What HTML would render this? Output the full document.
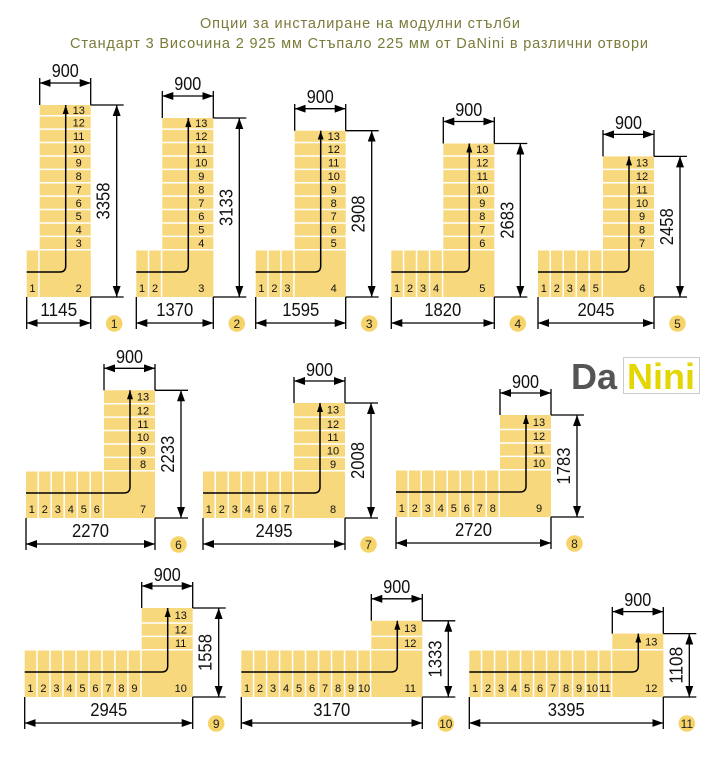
<!DOCTYPE html>
<html><head><meta charset="utf-8"><style>
html,body{margin:0;padding:0;background:#fff}
svg{display:block}
.s{font:11px "Liberation Sans Narrow","Liberation Sans",sans-serif;text-anchor:middle;fill:#111}
.d{font:18px "Liberation Sans Narrow","Liberation Sans",sans-serif;text-anchor:middle;fill:#111}
.b{font:12px "Liberation Sans Narrow","Liberation Sans",sans-serif;text-anchor:middle;fill:#222}
.dl{stroke:#000;stroke-width:1.3;fill:none}
.dm{stroke:#000;stroke-width:1.3;fill:none;marker-start:url(#ms);marker-end:url(#m)}
.ar{stroke:#000;stroke-width:1.5;fill:none}
.gh{stroke:#fff;stroke-width:1.5;fill:none}
</style></head><body>
<svg width="721" height="777" viewBox="0 0 721 777" xmlns="http://www.w3.org/2000/svg">
<defs>
<marker id="m" markerUnits="userSpaceOnUse" markerWidth="11" markerHeight="8" refX="11" refY="4" orient="auto"><path d="M0,0 L11,4 L0,8 z" fill="#000"/></marker>
<marker id="ms" markerUnits="userSpaceOnUse" markerWidth="11" markerHeight="8" refX="0" refY="4" orient="auto"><path d="M11,0 L0,4 L11,8 z" fill="#000"/></marker>
<marker id="u" markerUnits="userSpaceOnUse" markerWidth="9" markerHeight="6" refX="9" refY="3" orient="auto"><path d="M0,0 L9,3 L0,6 z" fill="#000"/></marker>
</defs>
<text x="360" y="28" textLength="320" style="font:14.5px 'Liberation Sans',sans-serif;fill:#7a7a3a;text-anchor:middle">Опции за инсталиране на модулни стълби</text>
<text x="359" y="48" textLength="578" style="font:14.5px 'Liberation Sans',sans-serif;fill:#7a7a3a;text-anchor:middle">Стандарт 3 Височина 2 925 мм Стъпало 225 мм от DaNini в различни отвори</text>

<text x="571" y="389" style="font:bold 36px 'Liberation Sans',sans-serif;fill:#555">Da</text>
<rect x="623.5" y="357.5" width="76" height="36" fill="none" stroke="#ccc" stroke-width="1"/>
<text x="627" y="389" style="font:bold 36px 'Liberation Sans',sans-serif;fill:#e4d600">Nini</text>

<!-- D1 -->
<g transform="translate(90.7,297)">
<rect x="-51" y="-192" width="51" height="192" fill="#f8d87c"/><rect x="-64" y="-46.5" width="64" height="46.5" fill="#f8d87c"/>
<path class="gh" d="M-51 -47.25h51M-51 -60.65h51M-51 -74.05h51M-51 -87.45h51M-51 -100.85h51M-51 -114.25h51M-51 -127.65h51M-51 -141.05h51M-51 -154.45h51M-51 -167.85h51M-51 -181.25h51M-51.75 -46.5v46.5"/>
<path class="ar" d="M-64 -25H-31Q-25 -25 -25 -31V-192" marker-end="url(#u)"/>
<g class="s"><text x="-58.25" y="-5">1</text><text x="-12" y="-5">2</text>
<text x="-12" y="-50">3</text><text x="-12" y="-63.4">4</text><text x="-12" y="-76.8">5</text><text x="-12" y="-90.2">6</text><text x="-12" y="-103.6">7</text><text x="-12" y="-117">8</text><text x="-12" y="-130.4">9</text><text x="-12" y="-143.8">10</text><text x="-12" y="-157.2">11</text><text x="-12" y="-170.6">12</text><text x="-12" y="-183">13</text></g>
<path class="dl" d="M-51 -192V-219M0 -192V-219M0 -192H33M0 0H33M-64 0V32M0 0V32"/>
<path class="dm" d="M-51 -214H0"/><path class="dm" d="M26 -192V0"/><path class="dm" d="M-64 26H0"/>
<text class="d" x="-25.5" y="-220" textLength="27" lengthAdjust="spacingAndGlyphs">900</text><text class="d" x="-32" y="19" textLength="37" lengthAdjust="spacingAndGlyphs">1145</text>
<text class="d" transform="translate(12,-96) rotate(-90)" dy="7" textLength="37" lengthAdjust="spacingAndGlyphs">3358</text>
<circle cx="23.5" cy="26.5" r="8.3" fill="#f6d46a"/><text class="b" x="23.5" y="31">1</text>
</g>

<!-- D2 -->
<g transform="translate(213.3,297)">
<rect x="-51" y="-179" width="51" height="179" fill="#f8d87c"/><rect x="-77" y="-46.5" width="77" height="46.5" fill="#f8d87c"/>
<path class="gh" d="M-51 -47.25h51M-51 -60.65h51M-51 -74.05h51M-51 -87.45h51M-51 -100.85h51M-51 -114.25h51M-51 -127.65h51M-51 -141.05h51M-51 -154.45h51M-51 -167.85h51M-51.75 -46.5v46.5M-64.75 -46.5v46.5"/>
<path class="ar" d="M-77 -25H-31Q-25 -25 -25 -31V-179" marker-end="url(#u)"/>
<g class="s"><text x="-71.25" y="-5">1</text><text x="-58.25" y="-5">2</text><text x="-12" y="-5">3</text>
<text x="-12" y="-50">4</text><text x="-12" y="-63.4">5</text><text x="-12" y="-76.8">6</text><text x="-12" y="-90.2">7</text><text x="-12" y="-103.6">8</text><text x="-12" y="-117">9</text><text x="-12" y="-130.4">10</text><text x="-12" y="-143.8">11</text><text x="-12" y="-157.2">12</text><text x="-12" y="-170">13</text></g>
<path class="dl" d="M-51 -179V-206M0 -179V-206M0 -179H33M0 0H33M-77 0V32M0 0V32"/>
<path class="dm" d="M-51 -201H0"/><path class="dm" d="M26 -179V0"/><path class="dm" d="M-77 26H0"/>
<text class="d" x="-25.5" y="-207" textLength="27" lengthAdjust="spacingAndGlyphs">900</text><text class="d" x="-38.5" y="19" textLength="37" lengthAdjust="spacingAndGlyphs">1370</text>
<text class="d" transform="translate(12,-89.5) rotate(-90)" dy="7" textLength="37" lengthAdjust="spacingAndGlyphs">3133</text>
<circle cx="23.5" cy="26.5" r="8.3" fill="#f6d46a"/><text class="b" x="23.5" y="31">2</text>
</g>

<!-- D3 -->
<g transform="translate(345.7,297)">
<rect x="-51" y="-166.3" width="51" height="166.3" fill="#f8d87c"/><rect x="-90" y="-46.5" width="90" height="46.5" fill="#f8d87c"/>
<path class="gh" d="M-51 -47.25h51M-51 -60.65h51M-51 -74.05h51M-51 -87.45h51M-51 -100.85h51M-51 -114.25h51M-51 -127.65h51M-51 -141.05h51M-51 -154.45h51M-51.75 -46.5v46.5M-64.75 -46.5v46.5M-77.75 -46.5v46.5"/>
<path class="ar" d="M-90 -25H-31Q-25 -25 -25 -31V-166.3" marker-end="url(#u)"/>
<g class="s"><text x="-84.25" y="-5">1</text><text x="-71.25" y="-5">2</text><text x="-58.25" y="-5">3</text><text x="-12" y="-5">4</text>
<text x="-12" y="-50">5</text><text x="-12" y="-63.4">6</text><text x="-12" y="-76.8">7</text><text x="-12" y="-90.2">8</text><text x="-12" y="-103.6">9</text><text x="-12" y="-117">10</text><text x="-12" y="-130.4">11</text><text x="-12" y="-143.8">12</text><text x="-12" y="-157">13</text></g>
<path class="dl" d="M-51 -166.3V-193M0 -166.3V-193M0 -166.3H33M0 0H33M-90 0V32M0 0V32"/>
<path class="dm" d="M-51 -188.3H0"/><path class="dm" d="M26 -166.3V0"/><path class="dm" d="M-90 26H0"/>
<text class="d" x="-25.5" y="-194" textLength="27" lengthAdjust="spacingAndGlyphs">900</text><text class="d" x="-45" y="19" textLength="37" lengthAdjust="spacingAndGlyphs">1595</text>
<text class="d" transform="translate(12,-83) rotate(-90)" dy="7" textLength="37" lengthAdjust="spacingAndGlyphs">2908</text>
<circle cx="23.5" cy="26.5" r="8.3" fill="#f6d46a"/><text class="b" x="23.5" y="31">3</text>
</g>

<!-- D4 -->
<g transform="translate(494.3,297)">
<rect x="-51" y="-153.5" width="51" height="153.5" fill="#f8d87c"/><rect x="-103" y="-46.5" width="103" height="46.5" fill="#f8d87c"/>
<path class="gh" d="M-51 -47.25h51M-51 -60.65h51M-51 -74.05h51M-51 -87.45h51M-51 -100.85h51M-51 -114.25h51M-51 -127.65h51M-51 -141.05h51M-51.75 -46.5v46.5M-64.75 -46.5v46.5M-77.75 -46.5v46.5M-90.75 -46.5v46.5"/>
<path class="ar" d="M-103 -25H-31Q-25 -25 -25 -31V-153.5" marker-end="url(#u)"/>
<g class="s"><text x="-97.25" y="-5">1</text><text x="-84.25" y="-5">2</text><text x="-71.25" y="-5">3</text><text x="-58.25" y="-5">4</text><text x="-12" y="-5">5</text>
<text x="-12" y="-50">6</text><text x="-12" y="-63.4">7</text><text x="-12" y="-76.8">8</text><text x="-12" y="-90.2">9</text><text x="-12" y="-103.6">10</text><text x="-12" y="-117">11</text><text x="-12" y="-130.4">12</text><text x="-12" y="-143.8">13</text></g>
<path class="dl" d="M-51 -153.5V-180M0 -153.5V-180M0 -153.5H33M0 0H33M-103 0V32M0 0V32"/>
<path class="dm" d="M-51 -175.5H0"/><path class="dm" d="M26 -153.5V0"/><path class="dm" d="M-103 26H0"/>
<text class="d" x="-25.5" y="-181" textLength="27" lengthAdjust="spacingAndGlyphs">900</text><text class="d" x="-51.5" y="19" textLength="37" lengthAdjust="spacingAndGlyphs">1820</text>
<text class="d" transform="translate(12,-76.7) rotate(-90)" dy="7" textLength="37" lengthAdjust="spacingAndGlyphs">2683</text>
<circle cx="23.5" cy="26.5" r="8.3" fill="#f6d46a"/><text class="b" x="23.5" y="31">4</text>
</g>

<!-- D5 -->
<g transform="translate(654,297)">
<rect x="-51" y="-140.6" width="51" height="140.6" fill="#f8d87c"/><rect x="-116" y="-46.5" width="116" height="46.5" fill="#f8d87c"/>
<path class="gh" d="M-51 -47.25h51M-51 -60.65h51M-51 -74.05h51M-51 -87.45h51M-51 -100.85h51M-51 -114.25h51M-51 -127.65h51M-51.75 -46.5v46.5M-64.75 -46.5v46.5M-77.75 -46.5v46.5M-90.75 -46.5v46.5M-103.75 -46.5v46.5"/>
<path class="ar" d="M-116 -25H-31Q-25 -25 -25 -31V-140.6" marker-end="url(#u)"/>
<g class="s"><text x="-110.25" y="-5">1</text><text x="-97.25" y="-5">2</text><text x="-84.25" y="-5">3</text><text x="-71.25" y="-5">4</text><text x="-58.25" y="-5">5</text><text x="-12" y="-5">6</text>
<text x="-12" y="-50">7</text><text x="-12" y="-63.4">8</text><text x="-12" y="-76.8">9</text><text x="-12" y="-90.2">10</text><text x="-12" y="-103.6">11</text><text x="-12" y="-117">12</text><text x="-12" y="-130.4">13</text></g>
<path class="dl" d="M-51 -140.6V-167M0 -140.6V-167M0 -140.6H33M0 0H33M-116 0V32M0 0V32"/>
<path class="dm" d="M-51 -162.6H0"/><path class="dm" d="M26 -140.6V0"/><path class="dm" d="M-116 26H0"/>
<text class="d" x="-25.5" y="-168" textLength="27" lengthAdjust="spacingAndGlyphs">900</text><text class="d" x="-58" y="19" textLength="37" lengthAdjust="spacingAndGlyphs">2045</text>
<text class="d" transform="translate(12,-70.3) rotate(-90)" dy="7" textLength="37" lengthAdjust="spacingAndGlyphs">2458</text>
<circle cx="23.5" cy="26.5" r="8.3" fill="#f6d46a"/><text class="b" x="23.5" y="31">5</text>
</g>

<!-- D6 -->
<g transform="translate(155,518)">
<rect x="-51" y="-127.7" width="51" height="127.7" fill="#f8d87c"/><rect x="-129" y="-46.5" width="129" height="46.5" fill="#f8d87c"/>
<path class="gh" d="M-51 -47.25h51M-51 -60.65h51M-51 -74.05h51M-51 -87.45h51M-51 -100.85h51M-51 -114.25h51M-51.75 -46.5v46.5M-64.75 -46.5v46.5M-77.75 -46.5v46.5M-90.75 -46.5v46.5M-103.75 -46.5v46.5M-116.75 -46.5v46.5"/>
<path class="ar" d="M-129 -25H-31Q-25 -25 -25 -31V-127.7" marker-end="url(#u)"/>
<g class="s"><text x="-123.25" y="-5">1</text><text x="-110.25" y="-5">2</text><text x="-97.25" y="-5">3</text><text x="-84.25" y="-5">4</text><text x="-71.25" y="-5">5</text><text x="-58.25" y="-5">6</text><text x="-12" y="-5">7</text>
<text x="-12" y="-50">8</text><text x="-12" y="-63.4">9</text><text x="-12" y="-76.8">10</text><text x="-12" y="-90.2">11</text><text x="-12" y="-103.6">12</text><text x="-12" y="-117.4">13</text></g>
<path class="dl" d="M-51 -127.7V-154M0 -127.7V-154M0 -127.7H33M0 0H33M-129 0V32M0 0V32"/>
<path class="dm" d="M-51 -149.7H0"/><path class="dm" d="M26 -127.7V0"/><path class="dm" d="M-129 26H0"/>
<text class="d" x="-25.5" y="-155" textLength="27" lengthAdjust="spacingAndGlyphs">900</text><text class="d" x="-64.5" y="19" textLength="37" lengthAdjust="spacingAndGlyphs">2270</text>
<text class="d" transform="translate(12,-63.8) rotate(-90)" dy="7" textLength="37" lengthAdjust="spacingAndGlyphs">2233</text>
<circle cx="23.5" cy="26.5" r="8.3" fill="#f6d46a"/><text class="b" x="23.5" y="31">6</text>
</g>

<!-- D7 -->
<g transform="translate(345,518)">
<rect x="-51" y="-115" width="51" height="115" fill="#f8d87c"/><rect x="-142" y="-46.5" width="142" height="46.5" fill="#f8d87c"/>
<path class="gh" d="M-51 -47.25h51M-51 -60.65h51M-51 -74.05h51M-51 -87.45h51M-51 -100.85h51M-51.75 -46.5v46.5M-64.75 -46.5v46.5M-77.75 -46.5v46.5M-90.75 -46.5v46.5M-103.75 -46.5v46.5M-116.75 -46.5v46.5M-129.75 -46.5v46.5"/>
<path class="ar" d="M-142 -25H-31Q-25 -25 -25 -31V-115" marker-end="url(#u)"/>
<g class="s"><text x="-136.25" y="-5">1</text><text x="-123.25" y="-5">2</text><text x="-110.25" y="-5">3</text><text x="-97.25" y="-5">4</text><text x="-84.25" y="-5">5</text><text x="-71.25" y="-5">6</text><text x="-58.25" y="-5">7</text><text x="-12" y="-5">8</text>
<text x="-12" y="-50">9</text><text x="-12" y="-63.4">10</text><text x="-12" y="-76.8">11</text><text x="-12" y="-90.2">12</text><text x="-12" y="-104.3">13</text></g>
<path class="dl" d="M-51 -115V-141M0 -115V-141M0 -115H33M0 0H33M-142 0V32M0 0V32"/>
<path class="dm" d="M-51 -137H0"/><path class="dm" d="M26 -115V0"/><path class="dm" d="M-142 26H0"/>
<text class="d" x="-25.5" y="-142" textLength="27" lengthAdjust="spacingAndGlyphs">900</text><text class="d" x="-71" y="19" textLength="37" lengthAdjust="spacingAndGlyphs">2495</text>
<text class="d" transform="translate(12,-57.5) rotate(-90)" dy="7" textLength="37" lengthAdjust="spacingAndGlyphs">2008</text>
<circle cx="23.5" cy="26.5" r="8.3" fill="#f6d46a"/><text class="b" x="23.5" y="31">7</text>
</g>

<!-- D8 -->
<g transform="translate(551,517)">
<rect x="-51" y="-102" width="51" height="102" fill="#f8d87c"/><rect x="-155" y="-46.5" width="155" height="46.5" fill="#f8d87c"/>
<path class="gh" d="M-51 -47.25h51M-51 -60.65h51M-51 -74.05h51M-51 -87.45h51M-51.75 -46.5v46.5M-64.75 -46.5v46.5M-77.75 -46.5v46.5M-90.75 -46.5v46.5M-103.75 -46.5v46.5M-116.75 -46.5v46.5M-129.75 -46.5v46.5M-142.75 -46.5v46.5"/>
<path class="ar" d="M-155 -25H-31Q-25 -25 -25 -31V-102" marker-end="url(#u)"/>
<g class="s"><text x="-149.25" y="-5">1</text><text x="-136.25" y="-5">2</text><text x="-123.25" y="-5">3</text><text x="-110.25" y="-5">4</text><text x="-97.25" y="-5">5</text><text x="-84.25" y="-5">6</text><text x="-71.25" y="-5">7</text><text x="-58.25" y="-5">8</text><text x="-12" y="-5">9</text>
<text x="-12" y="-50">10</text><text x="-12" y="-63.4">11</text><text x="-12" y="-76.8">12</text><text x="-12" y="-91">13</text></g>
<path class="dl" d="M-51 -102V-128M0 -102V-128M0 -102H33M0 0H33M-155 0V32M0 0V32"/>
<path class="dm" d="M-51 -124H0"/><path class="dm" d="M26 -102V0"/><path class="dm" d="M-155 26H0"/>
<text class="d" x="-25.5" y="-129" textLength="27" lengthAdjust="spacingAndGlyphs">900</text><text class="d" x="-77.5" y="19" textLength="37" lengthAdjust="spacingAndGlyphs">2720</text>
<text class="d" transform="translate(12,-51) rotate(-90)" dy="7" textLength="37" lengthAdjust="spacingAndGlyphs">1783</text>
<circle cx="23.5" cy="26.5" r="8.3" fill="#f6d46a"/><text class="b" x="23.5" y="31">8</text>
</g>

<!-- D9 -->
<g transform="translate(192.7,697)">
<rect x="-51" y="-89" width="51" height="89" fill="#f8d87c"/><rect x="-168" y="-46.5" width="168" height="46.5" fill="#f8d87c"/>
<path class="gh" d="M-51 -47.25h51M-51 -60.65h51M-51 -74.05h51M-51.75 -46.5v46.5M-64.75 -46.5v46.5M-77.75 -46.5v46.5M-90.75 -46.5v46.5M-103.75 -46.5v46.5M-116.75 -46.5v46.5M-129.75 -46.5v46.5M-142.75 -46.5v46.5M-155.75 -46.5v46.5"/>
<path class="ar" d="M-168 -25H-31Q-25 -25 -25 -31V-89" marker-end="url(#u)"/>
<g class="s"><text x="-162.25" y="-5">1</text><text x="-149.25" y="-5">2</text><text x="-136.25" y="-5">3</text><text x="-123.25" y="-5">4</text><text x="-110.25" y="-5">5</text><text x="-97.25" y="-5">6</text><text x="-84.25" y="-5">7</text><text x="-71.25" y="-5">8</text><text x="-58.25" y="-5">9</text><text x="-12" y="-5">10</text>
<text x="-12" y="-50">11</text><text x="-12" y="-63.4">12</text><text x="-12" y="-78">13</text></g>
<path class="dl" d="M-51 -89V-115M0 -89V-115M0 -89H33M0 0H33M-168 0V32M0 0V32"/>
<path class="dm" d="M-51 -111H0"/><path class="dm" d="M26 -89V0"/><path class="dm" d="M-168 26H0"/>
<text class="d" x="-25.5" y="-116" textLength="27" lengthAdjust="spacingAndGlyphs">900</text><text class="d" x="-84" y="19" textLength="37" lengthAdjust="spacingAndGlyphs">2945</text>
<text class="d" transform="translate(12,-44.5) rotate(-90)" dy="7" textLength="37" lengthAdjust="spacingAndGlyphs">1558</text>
<circle cx="23.5" cy="26.5" r="8.3" fill="#f6d46a"/><text class="b" x="23.5" y="31">9</text>
</g>

<!-- D10 -->
<g transform="translate(422.3,697)">
<rect x="-51" y="-76.2" width="51" height="76.2" fill="#f8d87c"/><rect x="-181" y="-46.5" width="181" height="46.5" fill="#f8d87c"/>
<path class="gh" d="M-51 -47.25h51M-51 -60.65h51M-51.75 -46.5v46.5M-64.75 -46.5v46.5M-77.75 -46.5v46.5M-90.75 -46.5v46.5M-103.75 -46.5v46.5M-116.75 -46.5v46.5M-129.75 -46.5v46.5M-142.75 -46.5v46.5M-155.75 -46.5v46.5M-168.75 -46.5v46.5"/>
<path class="ar" d="M-181 -25H-31Q-25 -25 -25 -31V-76.2" marker-end="url(#u)"/>
<g class="s"><text x="-175.25" y="-5">1</text><text x="-162.25" y="-5">2</text><text x="-149.25" y="-5">3</text><text x="-136.25" y="-5">4</text><text x="-123.25" y="-5">5</text><text x="-110.25" y="-5">6</text><text x="-97.25" y="-5">7</text><text x="-84.25" y="-5">8</text><text x="-71.25" y="-5">9</text><text x="-58.25" y="-5">10</text><text x="-12" y="-5">11</text>
<text x="-12" y="-50">12</text><text x="-12" y="-64.8">13</text></g>
<path class="dl" d="M-51 -76.2V-103M0 -76.2V-103M0 -76.2H33M0 0H33M-181 0V32M0 0V32"/>
<path class="dm" d="M-51 -98.2H0"/><path class="dm" d="M26 -76.2V0"/><path class="dm" d="M-181 26H0"/>
<text class="d" x="-25.5" y="-104" textLength="27" lengthAdjust="spacingAndGlyphs">900</text><text class="d" x="-90.5" y="19" textLength="37" lengthAdjust="spacingAndGlyphs">3170</text>
<text class="d" transform="translate(12,-38) rotate(-90)" dy="7" textLength="37" lengthAdjust="spacingAndGlyphs">1333</text>
<circle cx="23.5" cy="26.5" r="8.3" fill="#f6d46a"/><text class="b" x="23.5" y="31">10</text>
</g>

<!-- D11 -->
<g transform="translate(663.3,697)">
<rect x="-51" y="-63.4" width="51" height="63.4" fill="#f8d87c"/><rect x="-194" y="-46.5" width="194" height="46.5" fill="#f8d87c"/>
<path class="gh" d="M-51 -47.25h51M-51.75 -46.5v46.5M-64.75 -46.5v46.5M-77.75 -46.5v46.5M-90.75 -46.5v46.5M-103.75 -46.5v46.5M-116.75 -46.5v46.5M-129.75 -46.5v46.5M-142.75 -46.5v46.5M-155.75 -46.5v46.5M-168.75 -46.5v46.5M-181.75 -46.5v46.5"/>
<path class="ar" d="M-194 -25H-31Q-25 -25 -25 -31V-63.4" marker-end="url(#u)"/>
<g class="s"><text x="-188.25" y="-5">1</text><text x="-175.25" y="-5">2</text><text x="-162.25" y="-5">3</text><text x="-149.25" y="-5">4</text><text x="-136.25" y="-5">5</text><text x="-123.25" y="-5">6</text><text x="-110.25" y="-5">7</text><text x="-97.25" y="-5">8</text><text x="-84.25" y="-5">9</text><text x="-71.25" y="-5">10</text><text x="-58.25" y="-5">11</text><text x="-12" y="-5">12</text>
<text x="-12" y="-51.7">13</text></g>
<path class="dl" d="M-51 -63.4V-90M0 -63.4V-90M0 -63.4H33M0 0H33M-194 0V32M0 0V32"/>
<path class="dm" d="M-51 -85.4H0"/><path class="dm" d="M26 -63.4V0"/><path class="dm" d="M-194 26H0"/>
<text class="d" x="-25.5" y="-91" textLength="27" lengthAdjust="spacingAndGlyphs">900</text><text class="d" x="-97" y="19" textLength="37" lengthAdjust="spacingAndGlyphs">3395</text>
<text class="d" transform="translate(12,-31.7) rotate(-90)" dy="7" textLength="37" lengthAdjust="spacingAndGlyphs">1108</text>
<circle cx="23.5" cy="26.5" r="8.3" fill="#f6d46a"/><text class="b" x="23.5" y="31">11</text>
</g>
</svg>
</body></html>
